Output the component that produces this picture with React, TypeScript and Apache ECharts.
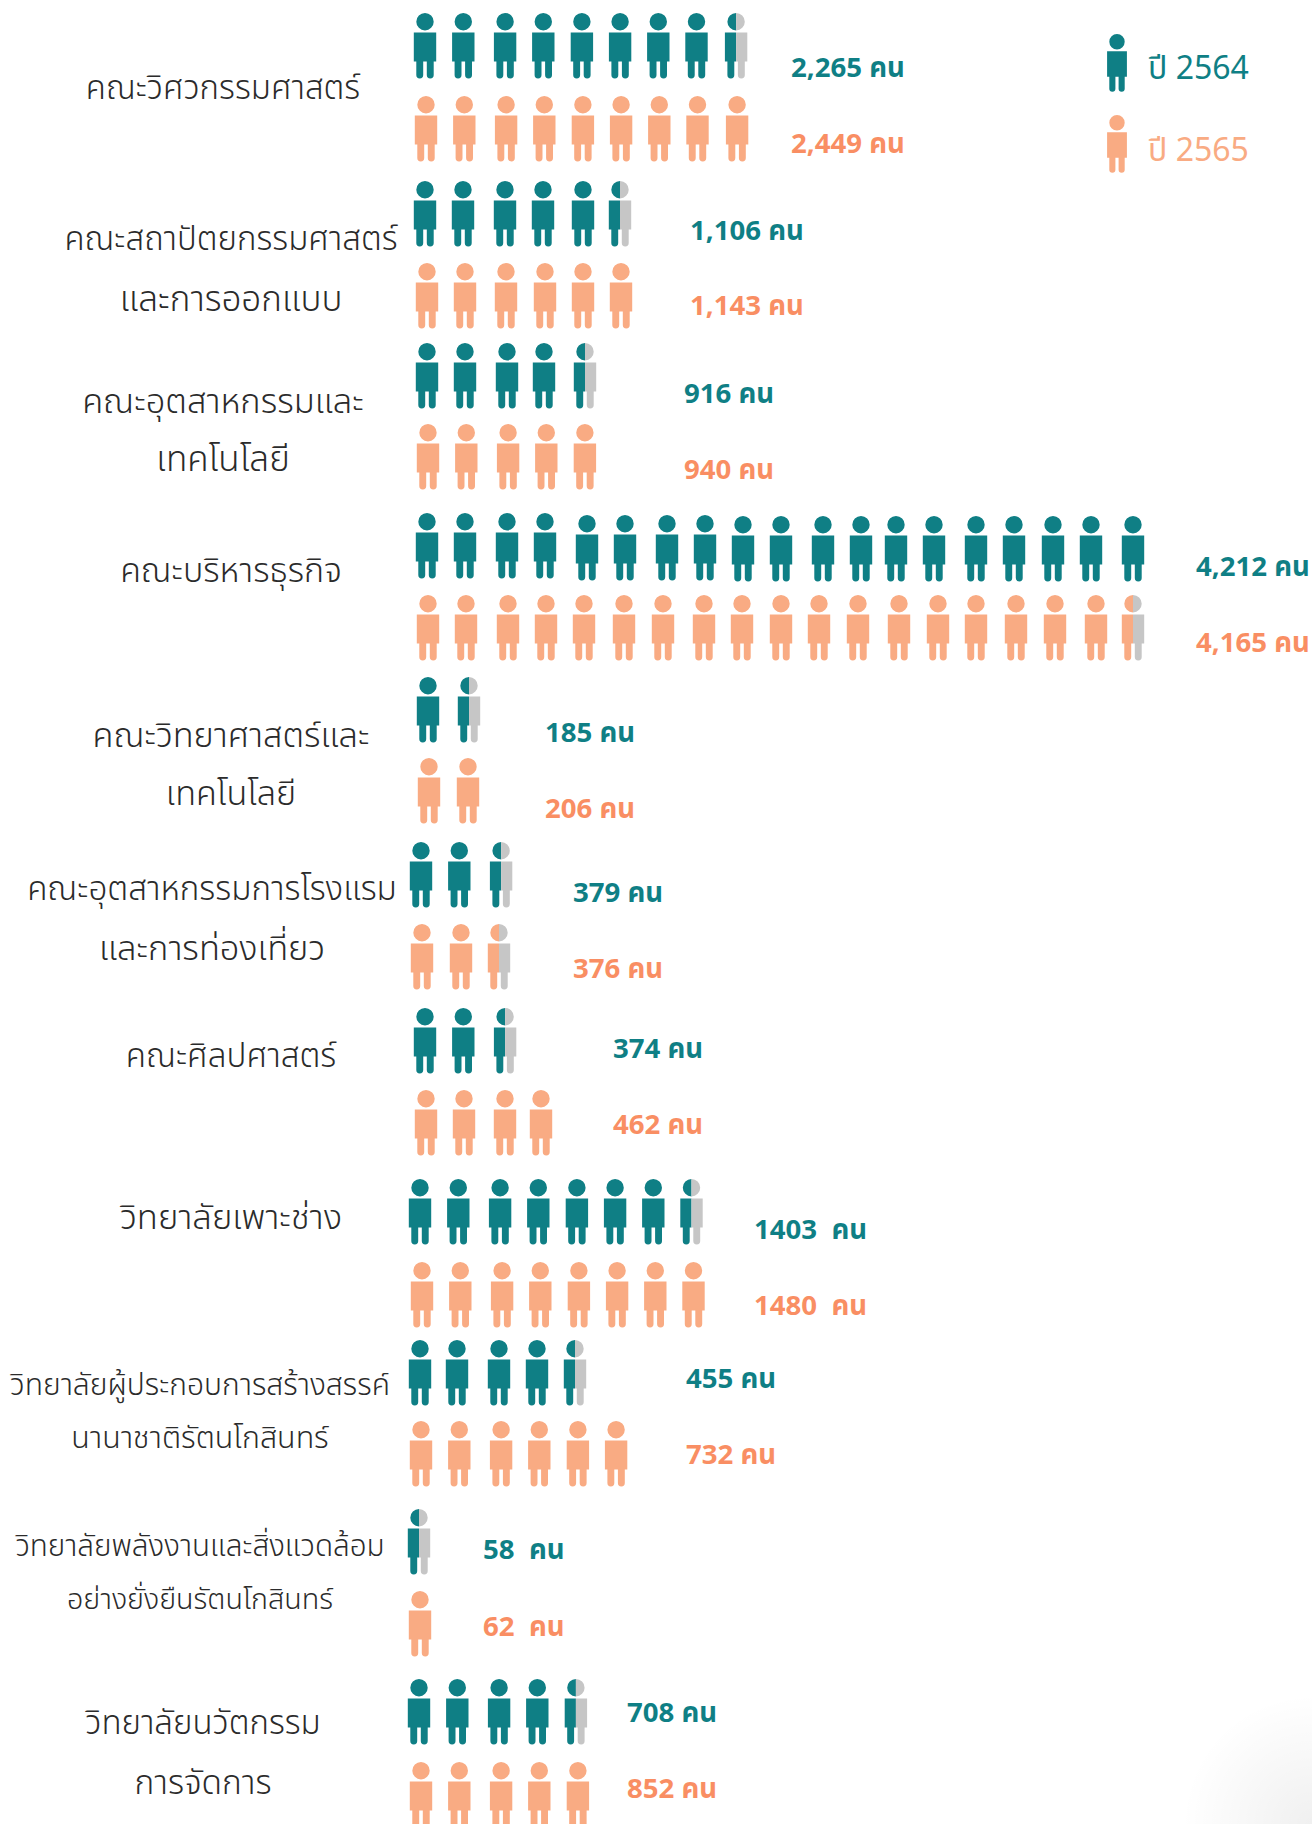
import React, { useEffect, useRef } from "react";
import * as echarts from "echarts";

const TEAL = "#0f7f85";
const PEACH = "#f9ab83";
const PEACH_TEXT = "#f98e63";
const GRAY = "#c6c6c6";
const LABEL_FONT = "'Noto Sans', 'Noto Sans Thai', 'Liberation Sans', 'DejaVu Sans', sans-serif";
const VALUE_FONT = "'Noto Sans', 'Noto Sans Thai', 'DejaVu Sans', sans-serif";

// Data
const categories: string[][] = [
  ["คณะวิศวกรรมศาสตร์"],
  ["คณะสถาปัตยกรรมศาสตร์", "และการออกแบบ"],
  ["คณะอุตสาหกรรมและ", "เทคโนโลยี"],
  ["คณะบริหารธุรกิจ"],
  ["คณะวิทยาศาสตร์และ", "เทคโนโลยี"],
  ["คณะอุตสาหกรรมการโรงแรม", "และการท่องเที่ยว"],
  ["คณะศิลปศาสตร์"],
  ["วิทยาลัยเพาะช่าง"],
  ["วิทยาลัยผู้ประกอบการสร้างสรรค์", "นานาชาติรัตนโกสินทร์"],
  ["วิทยาลัยพลังงานและสิ่งแวดล้อม", "อย่างยั่งยืนรัตนโกสินทร์"],
  ["วิทยาลัยนวัตกรรม", "การจัดการ"],
];
const labels2564 = ["2,265 คน", "1,106 คน", "916 คน", "4,212 คน", "185 คน", "379 คน", "374 คน", "1403  คน", "455 คน", "58  คน", "708 คน"];
const labels2565 = ["2,449 คน", "1,143 คน", "940 คน", "4,165 คน", "206 คน", "376 คน", "462 คน", "1480  คน", "732 คน", "62  คน", "852 คน"];
const icons2564 = [8.5, 5.5, 4.5, 19, 1.5, 2.5, 2.5, 7.5, 4.5, 0.5, 4.5];
const icons2565 = [9, 6, 5, 18.5, 2, 2.5, 4, 8, 6, 1, 5];
const legendNames = ["ปี 2564", "ปี 2565"];

// Layout (pixel scale of the two hidden axes)
const defaultGaps = [38.3, 41.8, 38.2, 38.6, 38.2, 38.2, 38.2, 39.6];
const gaps2564: Record<number, number[]> = {
  1: [38, 42, 38, 40, 37],
  2: [38, 42, 37, 41],
  3: [38, 42, 38, 42, 38, 42, 38, 38, 38, 42, 38, 35, 38, 42, 38, 39, 38, 42],
  4: [41],
  8: [37, 42, 38, 38],
};
const gaps2565: Record<number, number[]> = {
  1: [38, 41, 39, 38, 38],
  3: [38, 42, 38, 38, 40, 39, 41, 38, 39, 38, 39, 41, 39, 38, 40, 39, 41, 37],
  4: [39],
  5: [39, 38],
  6: [38, 41, 36],
};
const rowX2564 = [425, 425, 427, 427, 428, 421, 425, 420, 420, 419, 419];
const rowX2565 = [426, 427, 428, 428, 429, 422, 426, 422, 421, 420, 421];
const rowY2564 = [13, 181, 343, 516, 677, 842, 1008, 1179, 1340, 1509, 1679];
const rowY2565 = [96, 263, 424, 595, 758, 924, 1090, 1262, 1421, 1591, 1762];
const bigRowLift = [3, 3, 3, 3, 1, 1, 1, 1];
const BIG_ROW = 3;
const labelX = [791, 690, 684, 1196, 545, 573, 613, 754, 686, 483, 627];
const labelY2564 = [66, 229, 392, 565, 731, 891, 1047, 1228, 1377, 1548, 1711];
const labelY2565 = [142, 304, 468, 641, 807, 967, 1123, 1304, 1453, 1625, 1787];
const catX = [223, 231, 223, 231, 231, 212, 231, 231, 200, 200, 203];
const catY: number[][] = [[86], [237, 297], [399, 457], [569], [733, 791], [887, 946], [1054], [1215], [1383, 1436], [1544, 1597], [1721, 1781]];
const catFont: number[][] = [[33], [33, 35], [34.4, 35], [34], [34.3, 34.2], [33.2, 34.4], [33.2], [34.6], [30, 30.4], [29.6, 28.7], [33, 33.5]];

function halfPath(cx: number, top: number, side: number, k: number) {
  const r = 8.7 * k, hy = top + r;
  const bt = top + 19.4 * k, bb = top + 48.4 * k, lb = top + 65.4 * k;
  const bw = 11.2 * k, lo = 8.7 * k, li = 1.8 * k, lr = (lo - li) / 2;
  const s = side;
  const sweep = s < 0 ? 0 : 1;
  return (
    `M${cx} ${hy - r}A${r} ${r} 0 0 ${sweep} ${cx} ${hy + r}Z` +
    `M${cx} ${bt}L${cx + s * bw} ${bt}L${cx + s * bw} ${bb}L${cx} ${bb}Z` +
    `M${cx + s * lo} ${bb - 0.5}L${cx + s * lo} ${lb - lr}A${lr} ${lr} 0 0 ${sweep} ${cx + s * li} ${lb - lr}L${cx + s * li} ${bb - 0.5}Z`
  );
}

type Fig = [number, number, number, number, number];
const figures: Fig[] = [];
const addRow = (icons: number[], xs: number[], ys: number[], gaps: Record<number, number[]>, year: number) => {
  icons.forEach((n, r) => {
    const g = gaps[r] || defaultGaps;
    let x = xs[r];
    for (let i = 0; i < Math.ceil(n); i++) {
      const lift = year === 0 && r === BIG_ROW ? bigRowLift[i] || 0 : 0;
      figures.push([x, ys[r] - lift, Math.min(1, n - i), year, 1]);
      x += g[i] ?? 38.5;
    }
  });
};
addRow(icons2564, rowX2564, rowY2564, gaps2564, 0);
addRow(icons2565, rowX2565, rowY2565, gaps2565, 1);
figures.push([1117, 34, 1, 0, 0.885], [1117, 115, 1, 1, 0.885]);

type Txt = { value: [number, number]; text: string; color: string; size: number; weight: number; align: string; family: string };
const texts: Txt[] = [];
labels2564.forEach((t, i) => texts.push({ value: [labelX[i], labelY2564[i]], text: t, color: TEAL, size: 27.6, weight: 700, align: "left", family: VALUE_FONT }));
labels2565.forEach((t, i) => texts.push({ value: [labelX[i], labelY2565[i]], text: t, color: PEACH_TEXT, size: 27.6, weight: 700, align: "left", family: VALUE_FONT }));
categories.forEach((lines, i) => lines.forEach((t, j) => texts.push({ value: [catX[i], catY[i][j]], text: t, color: "#2b2b2b", size: catFont[i][j], weight: 300, align: "center", family: LABEL_FONT })));
texts.push({ value: [1148, 66], text: legendNames[0], color: TEAL, size: 32, weight: 400, align: "left", family: LABEL_FONT });
texts.push({ value: [1148, 148], text: legendNames[1], color: PEACH, size: 32, weight: 400, align: "left", family: LABEL_FONT });

export default function App() {
  const ref = useRef<HTMLDivElement>(null);
  useEffect(() => {
    document.body.style.margin = "0";
    const chart = echarts.init(ref.current!, undefined, { renderer: "svg" });
    chart.setOption({
      animation: false,
      backgroundColor: "#ffffff",
      grid: { left: 0, right: 0, top: 0, bottom: 0 },
      xAxis: { type: "value", min: 0, max: 1312, show: false },
      yAxis: { type: "value", min: 0, max: 1824, inverse: true, show: false },
      graphic: [
        {
          type: "circle",
          silent: true,
          z: -1,
          shape: { cx: 1312, cy: 1824, r: 130 },
          style: {
            fill: new echarts.graphic.RadialGradient(0.5, 0.5, 0.5, [
              { offset: 0, color: "rgba(0,0,0,0.06)" },
              { offset: 1, color: "rgba(0,0,0,0)" },
            ]),
          },
        },
      ],
      series: [
        {
          type: "custom",
          clip: true,
          data: figures,
          encode: { x: 0, y: 1 },
          renderItem: (_: any, api: any) => {
            const [cx, top] = api.coord([api.value(0), api.value(1)]);
            const fraction = api.value(2);
            const color = api.value(3) === 0 ? TEAL : PEACH;
            const k = api.value(4);
            if (fraction >= 1) {
              return {
                type: "path",
                shape: { pathData: halfPath(cx, top, -1, k) + halfPath(cx, top, 1, k) },
                style: { fill: color },
              };
            }
            return {
              type: "group",
              children: [
                { type: "path", shape: { pathData: halfPath(cx, top, -1, k) }, style: { fill: color } },
                { type: "path", shape: { pathData: halfPath(cx, top, 1, k) }, style: { fill: GRAY } },
              ],
            };
          },
        },
        {
          type: "custom",
          data: texts.map((t) => t.value),
          encode: { x: 0, y: 1 },
          renderItem: (p: any, api: any) => {
            const t = texts[p.dataIndex];
            const [x, y] = api.coord(t.value);
            return {
              type: "text",
              x,
              y,
              style: {
                text: t.text,
                fill: t.color,
                fontSize: t.size,
                fontWeight: t.weight,
                fontFamily: t.family,
                align: t.align,
                verticalAlign: "middle",
              },
            };
          },
        },
      ],
    });
    return () => chart.dispose();
  }, []);
  return <div ref={ref} style={{ width: 1312, height: 1824 }} />;
}
